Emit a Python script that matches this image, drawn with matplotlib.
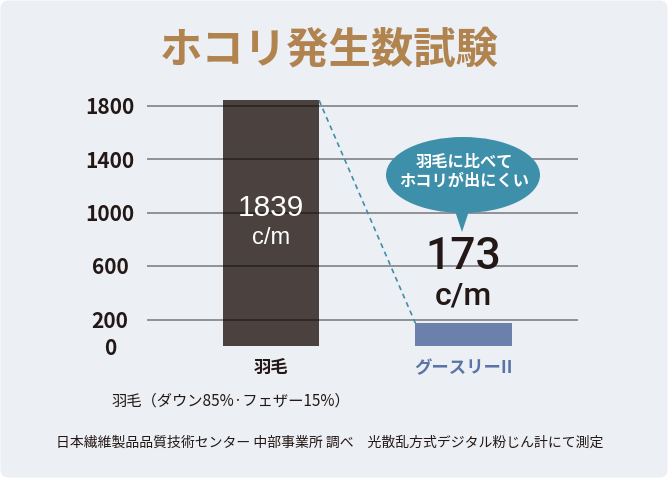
import matplotlib
matplotlib.use("Agg")
import matplotlib.pyplot as plt
from matplotlib.patches import FancyBboxPatch, Ellipse, Polygon

plt.rcParams['font.family'] = ['Noto Sans CJK JP', 'DejaVu Sans']

title = "ホコリ発生数試験"
categories = ["羽毛", "グースリーII"]
values = [1839, 173]
unit = "c/m"
yticks = [0, 200, 600, 1000, 1400, 1800]
gridlines = [200, 600, 1000, 1400, 1800]
bubble_text = "羽毛に比べて\nホコリが出にくい"
composition_note = "羽毛（ダウン85%·フェザー15%）"
source_note = "日本繊維製品品質技術センター 中部事業所 調べ　光散乱方式デジタル粉じん計にて測定"

W, H = 668, 478
fig = plt.figure(figsize=(W / 100, H / 100), dpi=100)
fig.patch.set_facecolor("white")

# background layer in pixel coordinates
bg = fig.add_axes([0, 0, 1, 1], zorder=0)
bg.set_xlim(0, W)
bg.set_ylim(H, 0)
bg.axis("off")
bg.add_patch(FancyBboxPatch((0.5, 0.5), W - 1, H - 1, boxstyle="round,pad=0,rounding_size=8",
                            facecolor="#eceff4", edgecolor="none"))

bg.text(329, 51, title, ha="center", va="center", fontsize=30.5, fontweight="bold", color="#b0834f")

# data axes
px_per_unit = 0.13375
ymax = 1900
ax = fig.add_axes([147 / W, (H - 346.25) / H, 431 / W, ymax * px_per_unit / H], zorder=1)
ax.patch.set_alpha(0)
ax.set_xlim(-0.644, 1.595)
ax.set_ylim(0, ymax)
for s in ax.spines.values():
    s.set_visible(False)

bar_colors = ["#4b4240", "#6b80aa"]
w = 0.5
x = list(range(len(categories)))
ax.bar(x, values, width=w, color=bar_colors, zorder=1)
for g in gridlines:
    ax.axhline(g, color="black", alpha=0.5, lw=1.1, zorder=2)

ax.set_yticks(yticks)
ax.set_yticklabels([str(t) for t in yticks], fontsize=15, fontweight="bold", color="#231815", ha="center")
ax.tick_params(axis="y", length=0, pad=26.5)
for lbl in ax.get_yticklabels():
    lbl.set_y(lbl.get_position()[1])
ax.set_xticks(x)
ax.set_xticklabels(categories, fontsize=12.5, fontweight="bold")
for lbl, c in zip(ax.get_xticklabels(), ["#231815", "#5a74a8"]):
    lbl.set_color(c)
ax.tick_params(axis="x", length=0, pad=9)

# dashed connector between bar tops
ax.plot([x[0] + w / 2, x[1] - w / 2], [values[0], values[1]], ls=(0, (3, 2.5)),
        color="#3e8fa9", lw=1.2, zorder=3)

# value labels
ax.text(x[0], 1034, f"{values[0]}", ha="center", va="center", fontsize=21.5,
        family="Liberation Sans", color="white", zorder=4)
ax.text(x[0], 810, unit, ha="center", va="center", fontsize=17,
        family="Liberation Sans", color="white", zorder=4)

# overlay layer
ov = fig.add_axes([0, 0, 1, 1], zorder=3)
ov.set_xlim(0, W)
ov.set_ylim(H, 0)
ov.axis("off")
ov.patch.set_alpha(0)
bubble_color = "#3e8fa9"
ov.add_patch(Ellipse((463, 175), 154, 76, facecolor=bubble_color, edgecolor="none"))
ov.add_patch(Polygon([[454, 208], [470, 208], [462, 232]], closed=True,
                     facecolor=bubble_color, edgecolor="none"))
ov.text(464, 171, bubble_text, ha="center", va="center", fontsize=11.7, fontweight="bold",
        color="white", linespacing=1.2)

ov.text(463, 257, f"{values[1]}", ha="center", va="center", fontsize=32,
        family="Roboto", fontweight="medium", color="#231815")
ov.text(463, 296, unit, ha="center", va="center", fontsize=23,
        family="Roboto", fontweight="medium", color="#231815")

ov.text(112, 401, composition_note, ha="left", va="center", fontsize=11, color="#231815")
ov.text(330, 443, source_note, ha="center", va="center", fontsize=10, color="#231815")

fig.savefig("out.png", dpi=100, facecolor="white")
